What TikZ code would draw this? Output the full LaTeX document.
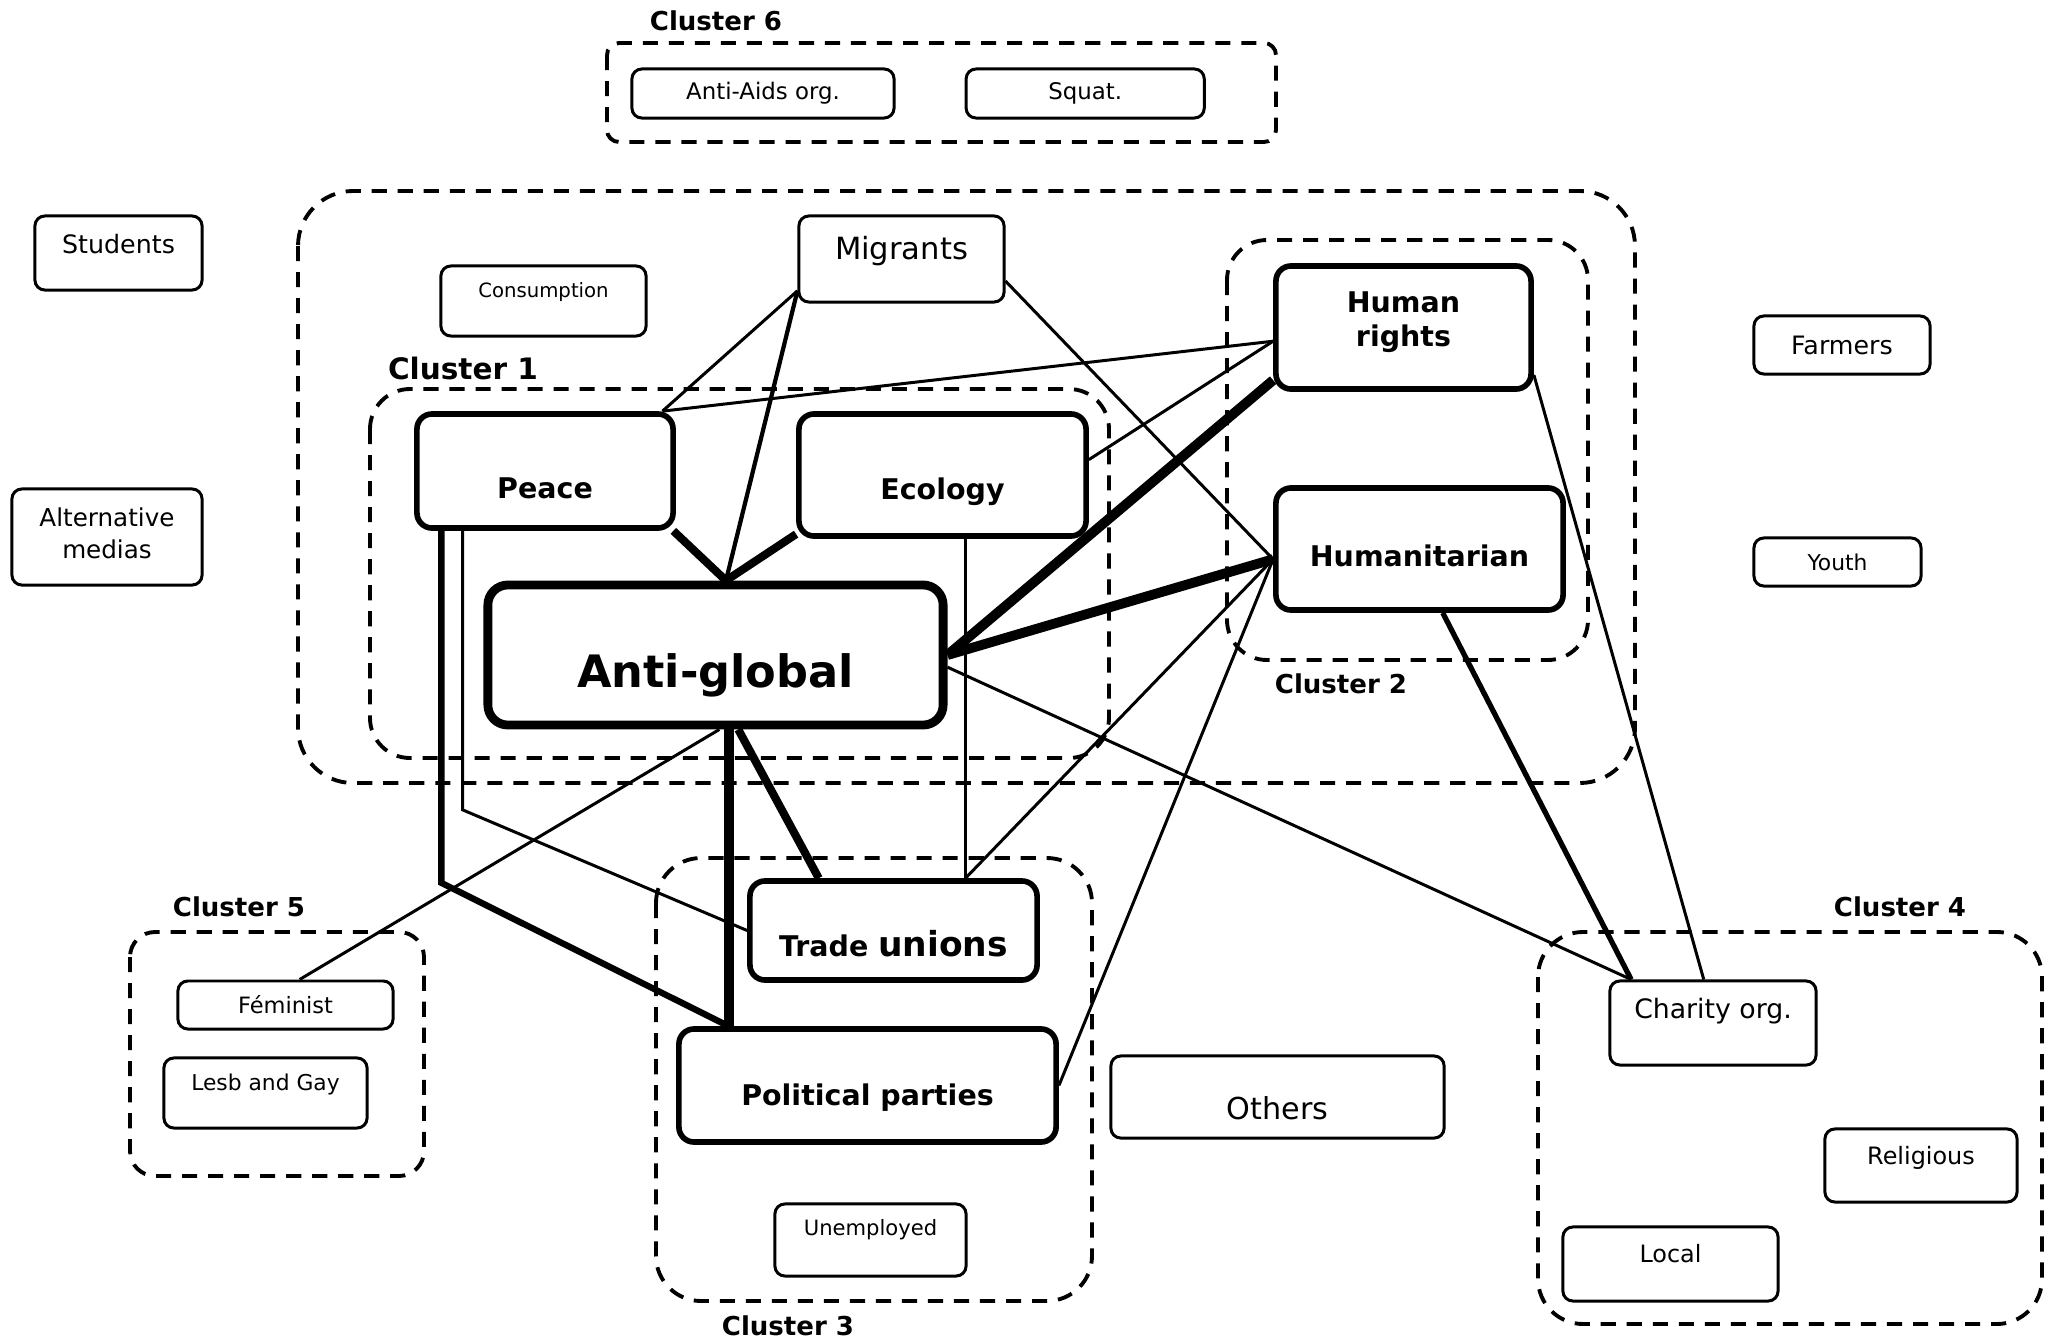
\documentclass[tikz,border=0pt]{standalone}
\usepackage{fontspec}
\setmainfont{DejaVu Sans}
\newlength\px
\setlength\px{0.2845pt}
% move a label up (+) or down (-) inside its box, in pixels
\newcommand\movetext[2]{\raisebox{\dimexpr #1\px-0.33em\relax}[0pt][0pt]{#2}}

\begin{document}
\begin{tikzpicture}[
     x = 0.01cm, y = -0.01cm,
     box/.style = {draw, line width = 0.85pt, rounded corners = 2.8pt, inner sep = 0pt},
     core/.style = {box, line width = 1.6pt, rounded corners = 4.3pt,
                    font = \bfseries\fontsize{8.1}{9.7}\selectfont},
     cluster/.style = {draw, line width = 1.1pt, dash pattern = on 4.3pt off 3.1pt},
     clabel/.style = {font = \bfseries\fontsize{7.4}{9}\selectfont},
     weak/.style = {line width = 0.85pt},
     medium/.style = {line width = 1.5pt},
     strong/.style = {line width = 2.3pt},
     heavy/.style = {line width = 2.8pt}
    ]

    \useasboundingbox (0,0) rectangle (2056,1342);

    % clusters
    \draw [cluster, rounded corners = 0.12cm] (607,43) rectangle (1276,142);
    \draw [cluster, rounded corners = 0.55cm] (298,191) rectangle (1635,783);
    \draw [cluster, rounded corners = 0.4cm] (370,389) rectangle (1109,758);
    \draw [cluster, rounded corners = 0.4cm] (1227,240) rectangle (1588,660);
    \draw [cluster, rounded corners = 0.25cm] (130,932) rectangle (424,1176);
    \draw [cluster, rounded corners = 0.45cm] (656,858) rectangle (1092,1301);
    \draw [cluster, rounded corners = 0.45cm] (1538,932) rectangle (2042,1324);

    \node [clabel] (Cluster6) at (716,21) {Cluster 6};
    \node [clabel, font = \bfseries\fontsize{8.4}{10}\selectfont] (Cluster1) at (463,368) {Cluster 1};
    \node [clabel] (Cluster2) at (1341,684) {Cluster 2};
    \node [clabel] (Cluster5) at (239,907) {Cluster 5};
    \node [clabel] (Cluster3) at (788,1326) {Cluster 3};
    \node [clabel] (Cluster4) at (1900,907) {Cluster 4};

    % movements
    \node [box, minimum width = 2.62cm, minimum height = 0.49cm, font = \fontsize{6.5}{8}\selectfont]
      (AntiAids) at (763,93.5) {Anti-Aids org.};
    \node [box, right of = AntiAids, node distance = 3.22cm, minimum width = 2.38cm,
      minimum height = 0.49cm, font = \fontsize{6.5}{8}\selectfont] (Squat) {Squat.};
    \node [box, minimum width = 1.67cm, minimum height = 0.74cm, font = \fontsize{7.2}{8.6}\selectfont]
      (Students) at (118.5,253) {\movetext{8}{Students}};
    \node [box, minimum width = 1.90cm, minimum height = 0.96cm, font = \fontsize{7}{9}\selectfont]
      (AltMedias) at (107,537) {\movetext{3}{\begin{tabular}{@{}c@{}}Alternative\\medias\end{tabular}}};
    \node [box, minimum width = 2.05cm, minimum height = 0.70cm, font = \fontsize{5.6}{7}\selectfont]
      (Consumption) at (543.5,301) {\movetext{10}{Consumption}};
    \node [box, minimum width = 2.05cm, minimum height = 0.86cm, font = \fontsize{8.7}{10.4}\selectfont]
      (Migrants) at (901.5,259) {\movetext{10}{Migrants}};
    \node [core, minimum width = 2.55cm, minimum height = 1.23cm]
      (HumanRights) at (1403.5,327.5) {\movetext{7}{\begin{tabular}{@{}c@{}}Human\\rights\end{tabular}}};
    \node [core, minimum width = 2.87cm, minimum height = 1.22cm]
      (Humanitarian) at (1419.5,549) {\movetext{-8}{Humanitarian}};
    \node [box, minimum width = 1.76cm, minimum height = 0.58cm, font = \fontsize{7.2}{8.6}\selectfont]
      (Farmers) at (1842,345) {Farmers};
    \node [box, minimum width = 1.67cm, minimum height = 0.48cm, font = \fontsize{6.2}{7.4}\selectfont]
      (Youth) at (1837.5,562) {Youth};
    \node [core, minimum width = 2.56cm, minimum height = 1.14cm]
      (Peace) at (545,471) {\movetext{-18}{Peace}};
    \node [core, minimum width = 2.87cm, minimum height = 1.22cm]
      (Ecology) at (942.5,475) {\movetext{-15}{Ecology}};
    \node [core, line width = 2.5pt, rounded corners = 5.7pt, minimum width = 4.55cm,
      minimum height = 1.40cm, font = \bfseries\fontsize{12.7}{15}\selectfont]
      (AntiGlobal) at (715.5,655) {\movetext{-18}{Anti-global}};
    \node [box, minimum width = 2.15cm, minimum height = 0.48cm, font = \fontsize{6.4}{7.7}\selectfont]
      (Feminist) at (285.5,1005) {Féminist};
    \node [box, minimum width = 2.03cm, minimum height = 0.70cm, font = \fontsize{6.2}{7.4}\selectfont]
      (LesbGay) at (265.5,1093) {\movetext{10}{Lesb and Gay}};
    \node [core, minimum width = 2.87cm, minimum height = 0.99cm]
      (TradeUnions) at (893.5,930.5) {\movetext{-17}{Trade {\fontsize{9.8}{11.8}\selectfont unions}}};
    \node [core, minimum width = 3.77cm, minimum height = 1.13cm]
      (PoliticalParties) at (867.5,1085.5) {\movetext{-11}{Political parties}};
    \node [box, minimum width = 1.91cm, minimum height = 0.72cm, font = \fontsize{6}{7.2}\selectfont]
      (Unemployed) at (870.5,1240) {\movetext{11}{Unemployed}};
    \node [box, minimum width = 3.33cm, minimum height = 0.82cm, font = \fontsize{8.6}{10.3}\selectfont]
      (Others) at (1277.5,1097) {\movetext{-13}{Others}};
    \node [box, minimum width = 2.06cm, minimum height = 0.84cm, font = \fontsize{7.6}{9.1}\selectfont]
      (Charity) at (1713,1023) {\movetext{13}{Charity org.}};
    \node [box, minimum width = 1.92cm, minimum height = 0.73cm, font = \fontsize{6.8}{8.2}\selectfont]
      (Religious) at (1921,1165.5) {\movetext{9}{Religious}};
    \node [box, minimum width = 2.15cm, minimum height = 0.74cm, font = \fontsize{6.8}{8.2}\selectfont]
      (Local) at (1670.5,1264) {\movetext{9}{Local}};

    % links
    \draw [weak] (Migrants.197) -- (Peace.27);
    \draw [line width = 1.2pt] (Migrants.197) -- (AntiGlobal.82);
    \draw [strong] (Peace.335) -- (AntiGlobal.82);
    \draw [strong] (Ecology.202) -- (AntiGlobal.82);
    \draw [weak] (Peace.27) -- (HumanRights.186);
    \draw [weak] (Ecology.6) -- (HumanRights.186);
    \draw [weak] (Migrants.348) -- (Humanitarian.184);
    \draw [heavy] (HumanRights.202) -- (AntiGlobal.east);
    \draw [heavy] (Humanitarian.184) -- (AntiGlobal.east);
    \draw [weak] (Humanitarian.184) -- (TradeUnions.36);
    \draw [weak] (Humanitarian.184) -- (PoliticalParties.east);
    \draw [weak] (TradeUnions.36) -- (TradeUnions.36 |- Ecology.south);
    \draw [medium] (Humanitarian.290) -- (Charity.152);
    \draw [weak] (HumanRights.340) -- (Charity.102);
    \draw [weak] (AntiGlobal.357) -- (Charity.152);
    \draw [weak] (AntiGlobal.273) -- (Feminist.61);
    \draw [heavy] (AntiGlobal.280) -- (AntiGlobal.280 |- PoliticalParties.north);
    \draw [strong] (AntiGlobal.287) -- (TradeUnions.145);
    \draw [line width = 1.8pt] (Peace.210) -- ++(0,352) -- (AntiGlobal.280 |- PoliticalParties.north);
    \draw [weak] (Peace.216.4) -- ++(0,279) -- (TradeUnions.west);

\end{tikzpicture}
\end{document}
